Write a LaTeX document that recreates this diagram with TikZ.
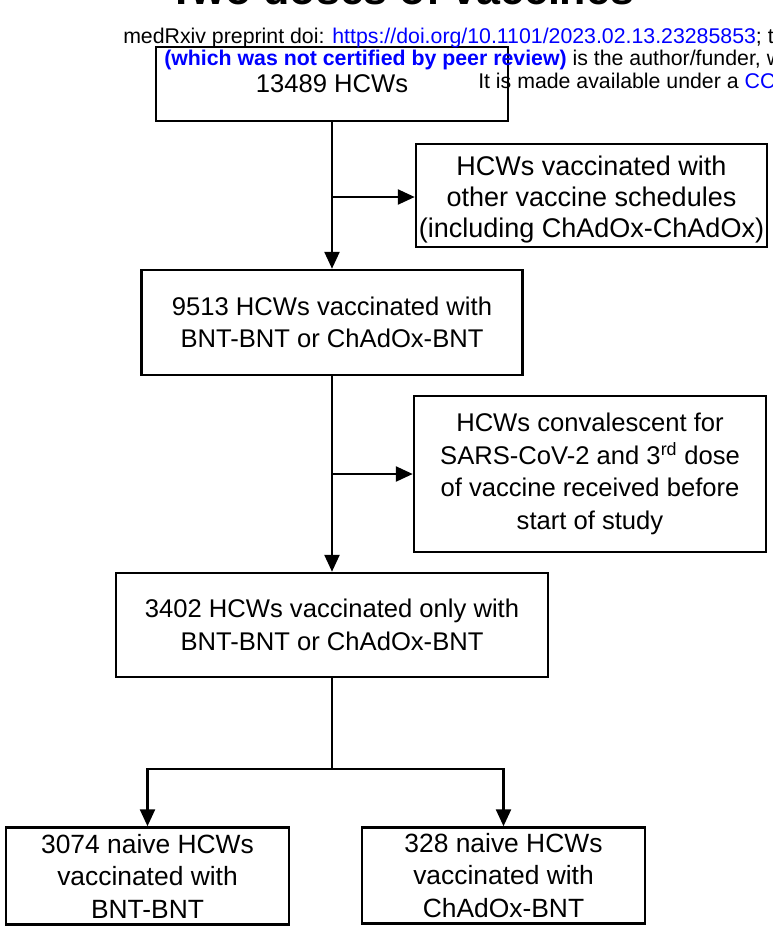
\documentclass[tikz,border=0pt]{standalone}
\usepackage{fontspec}
\setmainfont{Liberation Sans}
\usetikzlibrary{arrows.meta}

\begin{document}
\begin{tikzpicture}[%
  >={Triangle[length=17pt,width=15pt]},
  x=1pt, y=-1pt,
  line width=2.5pt,
  flowbox/.style={draw=black, inner sep=0pt, align=center,
    font=\fontsize{25.6}{32.5}\selectfont},
  header/.style={anchor=base west, inner sep=0pt,
    font=\fontsize{21.3}{24}\selectfont},
]

  \useasboundingbox (0,0) rectangle (773,932);
  \clip (0,0) rectangle (773,932);

  \node[anchor=base, inner sep=0pt, font=\fontsize{43}{50}\selectfont\bfseries]
    (title) at (401.5,4) {Two doses of vaccines};

  \node[flowbox, minimum width=352pt, minimum height=74pt] (all) at (332,84)
    {13489 HCWs};
  \node[flowbox, minimum width=351pt, minimum height=103pt,
    font=\fontsize{27}{31}\selectfont] (other) at (591.5,195.5)
    {\rule{0pt}{28pt}HCWs vaccinated with\\other vaccine schedules\\(including ChAdOx-ChAdOx)};
  \node[flowbox, minimum width=381pt, minimum height=105pt] (both) at (332,322.5)
    {9513 HCWs vaccinated with\\BNT-BNT or ChAdOx-BNT};
  \node[flowbox, minimum width=352pt, minimum height=156pt] (conv) at (590,474)
    {HCWs convalescent for\\SARS-CoV-2 and 3\textsuperscript{rd} dose\\of vaccine received before\\start of study};
  \node[flowbox, minimum width=432pt, minimum height=104pt] (only) at (332,625)
    {3402 HCWs vaccinated only with\\BNT-BNT or ChAdOx-BNT};
  \node[flowbox, minimum width=283pt, minimum height=97pt,
    font=\fontsize{26.4}{32.5}\selectfont] (bnt) at (147.5,876)
    {3074 naive HCWs\\vaccinated with\\BNT-BNT};
  \node[flowbox, minimum width=283pt, minimum height=96pt,
    font=\fontsize{26.4}{32.5}\selectfont] (chad) at (503.5,875.5)
    {328 naive HCWs\\vaccinated with\\ChAdOx-BNT};

  \coordinate (b1) at (332,197);
  \coordinate (b2) at (332,474);
  \coordinate (split) at (332,769);

  \draw[->] (all) -- (both);
  \draw[->] (b1) -- (b1 -| other.west);
  \draw[->] (both) -- (only);
  \draw[->] (b2) -- (b2 -| conv.west);
  \draw (only) -- (split);
  \draw[->] (split) -| (bnt);
  \draw[->] (split) -| (chad);

  \node[header] (doi) at (122,43)
    {medRxiv preprint doi: \textcolor{blue}{https://doi.org/10.1101/2023.02.13.23285853}; t};
  \node[header] (review) at (163,65)
    {\textcolor{blue}{\bfseries (which was not certified by peer review)} is the author/funder, w};
  \node[header] (licence) at (477,88)
    {It is made available under a \textcolor{blue}{CC}};

\end{tikzpicture}
\end{document}
